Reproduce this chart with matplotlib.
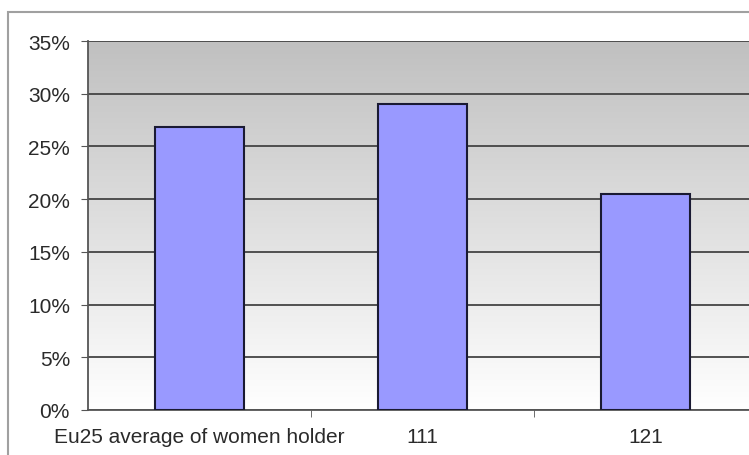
import matplotlib
matplotlib.use("Agg")
import matplotlib.pyplot as plt
import numpy as np
from matplotlib.patches import Rectangle
from matplotlib.colors import LinearSegmentedColormap

categories = ["Eu25 average of women holder", "111", "121"]
values = [26.8, 29.0, 20.5]
yticks = [0, 5, 10, 15, 20, 25, 30, 35]
ytick_labels = ["0%", "5%", "10%", "15%", "20%", "25%", "30%", "35%"]

plt.rcParams['font.family'] = ['Liberation Sans', 'DejaVu Sans']

W, H = 749, 456
fig = plt.figure(figsize=(W / 100, H / 100), dpi=100)
fig.patch.set_facecolor("white")

# outer chart border (cropped)
fig.patches.append(Rectangle((8 / W, -0.2), 1.2, (456 - 13) / H + 0.2,
                             transform=fig.transFigure, fill=False,
                             edgecolor="#a0a0a0", linewidth=1.5, zorder=0))

left, right = 88 / W, 757 / W
bottom, top = (H - 411) / H, (H - 42) / H
ax = fig.add_axes([left, bottom, right - left, top - bottom])

# gradient background
grad = np.linspace(0, 1, 256).reshape(-1, 1)
cmap = LinearSegmentedColormap.from_list("g", ["#ffffff", "#c0c0c0"])
ax.imshow(grad, extent=[0, 1, 0, 1], transform=ax.transAxes, aspect="auto",
          cmap=cmap, origin="lower", zorder=0)

x = np.arange(len(categories))
ax.bar(x, values, width=0.4, color="#9999ff", edgecolor="#1a1a33",
       linewidth=1.5, zorder=3)

ax.set_xlim(-0.5, len(categories) - 0.5)
ax.set_ylim(0, 35)
ax.set_yticks(yticks)
ax.set_yticklabels(ytick_labels, fontsize=15, color="#2a2a2a")
ax.yaxis.grid(True, color="#444444", linewidth=1.3)
for gl in ax.get_ygridlines():
    gl.set_zorder(1)

ax.set_xticks(x)
ax.set_xticklabels(categories, fontsize=15, color="#2a2a2a")
ax.tick_params(axis="x", which="major", length=0, pad=12)
ax.set_xticks(np.arange(len(categories) - 1) + 0.5, minor=True)
ax.tick_params(axis="x", which="minor", length=5, direction="out", color="#555555")
ax.tick_params(axis="y", length=5, direction="out", color="#555555", pad=8)

for s in ["top", "right"]:
    ax.spines[s].set_visible(False)
ax.spines["left"].set_color("#555555")
ax.spines["left"].set_linewidth(1.3)
ax.spines["bottom"].set_color("#555555")
ax.spines["bottom"].set_linewidth(1.3)

fig.savefig("out.png", dpi=100)
